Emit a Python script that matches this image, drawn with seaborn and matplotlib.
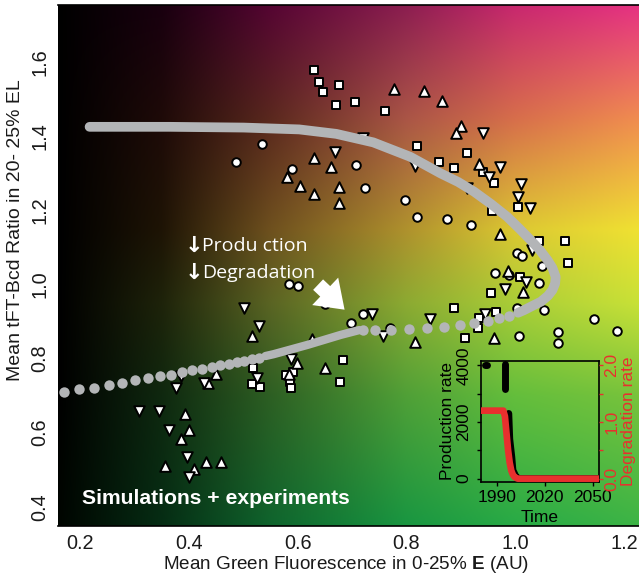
import numpy as np
import pandas as pd
import matplotlib
matplotlib.use("Agg")
import matplotlib.pyplot as plt
import seaborn as sns
from matplotlib.patches import FancyArrowPatch

# ---------------- data ----------------
# experiment markers (white filled, black edge)
sq_x = [0.630, 0.639, 0.646, 0.676, 0.670, 0.706, 0.761, 0.819, 0.859, 0.888, 0.912, 0.941,
        0.961, 1.004, 0.957, 1.043, 1.092, 1.096, 1.009, 0.955, 0.888, 0.965, 0.933, 0.931,
        0.907, 0.518, 0.684, 0.678, 0.517, 0.531, 0.578, 0.592, 0.586, 0.588]
sq_y = [1.579, 1.548, 1.520, 1.540, 1.485, 1.493, 1.469, 1.375, 1.332, 1.314, 1.355, 1.303,
        1.273, 1.209, 1.199, 1.118, 1.118, 1.057, 1.021, 0.977, 0.936, 0.925, 0.911, 0.882,
        0.855, 0.776, 0.796, 0.738, 0.731, 0.724, 0.756, 0.765, 0.738, 0.720]

ci_x = [0.535, 0.487, 0.590, 0.707, 0.724, 0.797, 0.820, 0.874, 0.918, 1.003, 1.013, 1.048,
        0.963, 0.988, 1.043, 1.003, 1.052, 1.007, 1.078, 1.078, 1.144, 1.186, 0.584, 0.601,
        0.720, 0.699, 0.770, 0.650]
ci_y = [1.379, 1.332, 1.312, 1.322, 1.262, 1.229, 1.183, 1.176, 1.160, 1.084, 1.077, 1.050,
        1.032, 1.026, 1.004, 0.938, 0.930, 0.861, 0.872, 0.841, 0.906, 0.875, 1.001, 0.997,
        0.920, 0.896, 0.883, 0.947]

up_x = [0.777, 0.832, 0.865, 0.900, 0.891, 0.630, 0.662, 0.580, 0.605, 0.630, 0.676, 0.676,
        0.933, 0.972, 0.986, 1.014, 0.961, 0.815, 0.517, 0.627, 0.650, 0.599, 0.584, 0.451,
        0.436, 0.394, 0.400, 0.386, 0.357, 0.410, 0.431, 0.459]
up_y = [1.528, 1.524, 1.496, 1.428, 1.410, 1.343, 1.318, 1.290, 1.267, 1.245, 1.263, 1.220,
        1.325, 1.137, 1.037, 0.979, 0.855, 0.844, 0.860, 0.852, 0.774, 0.787, 0.759, 0.758,
        0.735, 0.650, 0.606, 0.583, 0.509, 0.502, 0.521, 0.521]

dn_x = [0.669, 0.720, 0.941, 0.971, 0.952, 1.010, 1.005, 1.027, 0.815, 0.912, 1.031, 1.020,
        0.980, 0.737, 0.844, 0.756, 0.944, 0.501, 0.529, 0.588, 0.525, 0.428, 0.376, 0.385,
        0.309, 0.346, 0.363, 0.397, 0.401]
dn_y = [1.359, 1.395, 1.410, 1.318, 1.291, 1.271, 1.237, 1.208, 1.319, 1.262, 1.093, 1.008,
        0.988, 0.920, 0.906, 0.861, 0.920, 0.936, 0.888, 0.799, 0.749, 0.733, 0.720, 0.754,
        0.658, 0.658, 0.607, 0.535, 0.481]

# simulation trajectory: solid (slow) parts and dotted (fast) parts
sim_upper_x = [1.005, 1.016, 1.032, 1.047, 1.060, 1.068, 1.073, 1.074, 1.068, 1.059, 1.045,
               1.028, 1.008, 0.985, 0.955, 0.924, 0.895, 0.863, 0.807, 0.739, 0.671, 0.603,
               0.501, 0.365, 0.218]
sim_upper_y = [0.924, 0.931, 0.943, 0.954, 0.970, 0.985, 1.003, 1.021, 1.045, 1.066, 1.093,
               1.120, 1.150, 1.183, 1.218, 1.251, 1.277, 1.300, 1.345, 1.384, 1.407, 1.419,
               1.424, 1.426, 1.426]
sim_lower_x = [0.541, 0.556, 0.618, 0.679, 0.713]
sim_lower_y = [0.807, 0.812, 0.837, 0.864, 0.877]
dots_x = [0.171, 0.199, 0.227, 0.253, 0.278, 0.302, 0.325, 0.347, 0.368, 0.388, 0.407, 0.425,
          0.442, 0.458, 0.474, 0.489, 0.502, 0.517, 0.529,
          0.721, 0.742, 0.772, 0.804, 0.837, 0.868, 0.898, 0.924, 0.949, 0.970, 0.988]
dots_y = [0.711, 0.717, 0.722, 0.729, 0.735, 0.742, 0.747, 0.752, 0.757, 0.764, 0.768, 0.773,
          0.777, 0.782, 0.786, 0.791, 0.794, 0.799, 0.803,
          0.877, 0.877, 0.877, 0.879, 0.882, 0.886, 0.891, 0.897, 0.902, 0.909, 0.915]

# inset series
time_red = [1980, 1994, 1995, 1996, 1997, 1998, 1999, 2000, 2001, 2003, 2054]
degr_red = [1.2, 1.2, 1.1, 0.8, 0.5, 0.28, 0.14, 0.07, 0.03, 0.0, 0.0]
time_blk_a = [1982.3, 1983.6]
prod_blk_a = [4000, 4000]
time_blk_b = [1995.2, 1995.2]
prod_blk_b = [4050, 3150]
time_blk_c = [1997.4, 1998.0, 1999.3, 2000.0, 2002.0, 2004.0, 2054]
prod_blk_c = [2300, 1400, 760, 300, 60, 0, 0]

# background colour anchors (x columns, y rows)
bg_xs = [0.16, 0.35, 0.55, 0.80, 1.00, 1.227]
bg_ys = [1.755, 1.45, 1.15, 0.95, 0.70, 0.348]
bg_rgb = [
    [(0, 0, 0), (25, 0, 15), (85, 5, 50), (140, 30, 80), (200, 40, 110), (230, 50, 130)],
    [(0, 0, 0), (30, 10, 8), (90, 40, 30), (170, 85, 70), (215, 110, 75), (240, 140, 80)],
    [(0, 0, 0), (30, 20, 5), (110, 80, 30), (175, 145, 45), (220, 200, 50), (240, 225, 50)],
    [(0, 0, 0), (30, 35, 10), (90, 100, 35), (140, 170, 50), (170, 205, 55), (200, 225, 55)],
    [(0, 0, 0), (15, 40, 15), (45, 95, 35), (80, 160, 55), (100, 190, 60), (120, 195, 60)],
    [(0, 5, 0), (5, 45, 20), (15, 100, 45), (25, 150, 65), (40, 170, 70), (60, 180, 70)],
]

# ---------------- style ----------------
sns.set_theme(style="white")
plt.rcParams["font.family"] = ["Liberation Sans", "DejaVu Sans"]
plt.rcParams["mathtext.fontset"] = "custom"
plt.rcParams["mathtext.rm"] = "Liberation Sans"
plt.rcParams["mathtext.bf"] = "Liberation Sans:bold"

fig = plt.figure(figsize=(6.39, 5.76), dpi=100)
ax = fig.add_axes([58 / 639, 50 / 576, 581 / 639, 521 / 576])

xlim = (bg_xs[0], bg_xs[-1])
ylim = (bg_ys[-1], bg_ys[0])

# background gradient: interpolate anchor grid
arr = np.array(bg_rgb, dtype=float) / 255.0
gx = np.linspace(xlim[0], xlim[1], 300)
gy = np.linspace(ylim[1], ylim[0], 300)
tmp = np.empty((len(bg_ys), len(gx), 3))
for i in range(len(bg_ys)):
    for c in range(3):
        tmp[i, :, c] = np.interp(gx, bg_xs, arr[i, :, c])
img = np.empty((len(gy), len(gx), 3))
ys_rev = bg_ys[::-1]
for j in range(len(gx)):
    for c in range(3):
        img[:, j, c] = np.interp(gy[::-1], ys_rev, tmp[::-1, j, c])[::-1]
ax.imshow(img, extent=[xlim[0], xlim[1], ylim[0], ylim[1]], aspect="auto",
          interpolation="bicubic", zorder=0)

edge = dict(color="white", edgecolor="black", linewidth=1.4, zorder=3, legend=False, ax=ax)
sns.scatterplot(x=sq_x, y=sq_y, marker="s", s=34, **edge)
sns.scatterplot(x=ci_x, y=ci_y, marker="o", s=38, **edge)
sns.scatterplot(x=up_x, y=up_y, marker="^", s=58, **edge)
sns.scatterplot(x=dn_x, y=dn_y, marker="v", s=58, **edge)

gray = "#b3b5b7"
sns.lineplot(x=sim_upper_x, y=sim_upper_y, sort=False, estimator=None, color=gray,
             linewidth=7, solid_capstyle="round", solid_joinstyle="round", ax=ax, zorder=4)
sns.lineplot(x=sim_lower_x, y=sim_lower_y, sort=False, estimator=None, color=gray,
             linewidth=6, solid_capstyle="round", ax=ax, zorder=4)
sns.scatterplot(x=dots_x, y=dots_y, color=gray, s=56, linewidth=0, ax=ax, zorder=4,
                legend=False)

ax.set_xlim(*xlim)
ax.set_ylim(*ylim)
ax.set_xticks([0.2, 0.4, 0.6, 0.8, 1.0, 1.2])
ax.set_xticklabels(["0.2", "0.4", "0.6", "0.8", "1.0", "1.2"])
ax.set_yticks([0.4, 0.6, 0.8, 1.0, 1.2, 1.4, 1.6])
ax.set_yticklabels(["0.4", "0.6", "0.8", "1.0", "1.2", "1.4", "1.6"], rotation=90, va="center")
ax.tick_params(direction="in", length=8, width=1.4, color="white", labelsize=14.3,
               labelcolor="#1a1a1a", pad=6)
for s in ["left", "right"]:
    ax.spines[s].set_visible(False)
for s in ["top", "bottom"]:
    ax.spines[s].set_color("black")
    ax.spines[s].set_linewidth(1.2)
ax.set_xlabel(r"Mean Green Fluorescence in 0-25% $\mathbf{E}$ (AU)", fontsize=13.6,
              color="#1a1a1a")
ax.xaxis.set_label_coords(0.495, -0.0535)
ax.set_ylabel("Mean tFT-Bcd Ratio in 20- 25% EL", fontsize=14, color="#1a1a1a")
ax.yaxis.set_label_coords(-0.058, 0.567)

# annotations
ax.text(0.392, 1.104, "\u2193", color="white", fontsize=16, fontweight="bold",
        family="DejaVu Sans", va="center", ha="left", zorder=6)
ax.text(0.424, 1.104, "Produ ction", color="white", fontsize=14, family="Open Sans",
        va="center", ha="left", zorder=6)
ax.text(0.392, 1.031, "\u2193", color="white", fontsize=16, fontweight="bold",
        family="DejaVu Sans", va="center", ha="left", zorder=6)
ax.text(0.424, 1.031, "Degradation", color="white", fontsize=14, family="Open Sans",
        va="center", ha="left", zorder=6)
arr_patch = FancyArrowPatch((0.634, 1.005), (0.690, 0.927),
                            arrowstyle="simple,head_width=1.7,head_length=1.2,tail_width=0.65",
                            mutation_scale=16, color="white", zorder=6, linewidth=0)
ax.add_patch(arr_patch)
ax.text(0.204, 0.423, "Simulations + experiments", color="white", fontsize=15.2,
        fontweight="bold", va="center", ha="left", zorder=6)

# ---------------- inset ----------------
ins = fig.add_axes([481 / 639, 1 - 482 / 576, 118 / 639, 121 / 576])
ins.patch.set_alpha(0)
for tx, py in [(time_blk_a, prod_blk_a), (time_blk_b, prod_blk_b), (time_blk_c, prod_blk_c)]:
    sns.lineplot(x=tx, y=py, sort=False, estimator=None, color="black", linewidth=5,
                 solid_capstyle="round", ax=ins, zorder=2)
ins.set_xlim(1980, 2054)
ins.set_ylim(-118, 4153)
ins.set_yticks([0, 1000, 2000, 3000, 4000])
ins.set_yticklabels(["0", "", "2000", "", "4000"], rotation=90, va="center")
ins.set_xticks([1990, 2020, 2050])
ins.tick_params(direction="out", length=3, width=1, color="black", labelsize=12.5,
                labelcolor="black")
ins.tick_params(axis="x", pad=3)
ins.tick_params(axis="y", pad=4)
ins.tick_params(left=True, bottom=True)
for s in ins.spines.values():
    s.set_color("black")
    s.set_linewidth(1.2)
ins.set_ylabel("Production rate", fontsize=12.5, color="black", labelpad=1)
ins.set_xlabel("Time", fontsize=12.5, color="black", labelpad=3)

ins2 = ins.twinx()
ins2.patch.set_alpha(0)
sns.lineplot(x=time_red, y=degr_red, sort=False, estimator=None, color="#e8302e",
             linewidth=4.8, ax=ins2, zorder=3)
ins2.set_ylim(-0.059, 2.076)
ins2.set_yticks([0.0, 0.5, 1.0, 1.5, 2.0])
ins2.set_yticklabels(["0.0", "", "1.0", "", "2.0"], rotation=90, va="center")
ins2.tick_params(axis="y", direction="out", length=3, width=1, colors="#e8302e",
                 labelsize=12.5, pad=1, right=True)
for s in ins2.spines.values():
    s.set_visible(False)
ins2.set_ylabel("Degradation rate", fontsize=12.5, color="#e8302e", labelpad=1)

fig.savefig("out.png", dpi=100)
